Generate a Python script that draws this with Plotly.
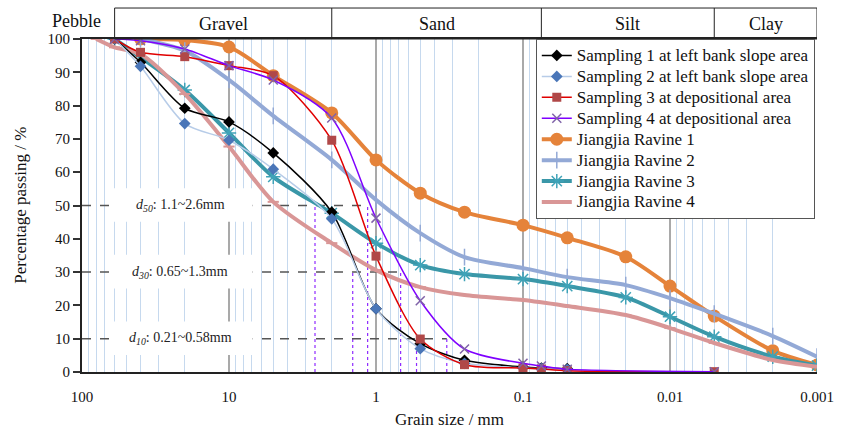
import math
import plotly.graph_objects as go

# ---------------- data ----------------
sizes_s12 = [60, 40, 20, 10, 5, 2, 1, 0.5, 0.25, 0.1, 0.075, 0.05]
sizes_s34 = [60, 40, 20, 10, 5, 2, 1, 0.5, 0.25, 0.1, 0.075, 0.05, 0.005]
sampling1 = [100, 93, 79.2, 75.1, 65.8, 48, 19, 8.5, 3.5, 1.5, 1.2, 1.0]
sampling2 = [100, 91.8, 74.6, 69.6, 60.9, 46, 19, 7, 2.6, 1.2, 1.0, 0.8]
sampling3 = [100, 96, 94.7, 92, 89, 69.6, 34.8, 9.9, 2.2, 1.2, 0.9, 0.4, 0.1]
sampling4 = [100, 99.5, 97, 92, 87.7, 76.3, 46.2, 21.4, 6.9, 2.6, 1.8, 0.8, 0.1]

sizes_r12 = [40, 20, 10, 5, 2, 1, 0.5, 0.25, 0.1, 0.05, 0.02, 0.01, 0.005, 0.002, 0.001]
ravine1 = [100, 99.7, 97.6, 89, 77.8, 63.7, 53.7, 48, 44.1, 40.3, 34.6, 25.8, 16.8, 6.4, 2.1]
ravine2 = [100, 96.5, 87.7, 76.9, 63.7, 51.7, 41.7, 34.5, 31.2, 28.5, 26.1, 22.2, 17.5, 10.8, 4.6]
sizes_r3 = [60, 20, 10, 5, 2, 1, 0.5, 0.25, 0.1, 0.05, 0.02, 0.01, 0.005, 0.002, 0.001]
ravine3 = [100, 84.7, 71.8, 58.6, 47.7, 38.7, 32.1, 29.4, 27.9, 25.8, 22.4, 16.6, 10.6, 4.6, 1.9]
sizes_r4 = [80, 60, 40, 20, 10, 5, 2, 1, 0.5, 0.25, 0.1, 0.05, 0.02, 0.01, 0.005, 0.002, 0.001]
ravine4 = [100, 97.5, 95.5, 83.5, 67.7, 51.1, 38.7, 30.6, 25.5, 23.1, 21.6, 19.8, 17.1, 13.2, 8.7, 3.6, 1.6]

d_levels = [50, 30, 10]
d_names = ["50", "30", "10"]
d_upper = [2.6, 1.44, 0.53]
d_lower = [1.14, 0.68, 0.33]
d_texts = ["1.1~2.6mm", "0.65~1.3mm", "0.21~0.58mm"]

class_bounds = [60, 2, 0.075, 0.005, 0.001]
class_names = ["Gravel", "Sand", "Silt", "Clay"]

decade_ticks = [100, 10, 1, 0.1, 0.01, 0.001]
decade_labels = ["100", "10", "1", "0.1", "0.01", "0.001"]

FONT = "Liberation Serif, Times New Roman, serif"
L = math.log10

fig = go.Figure()

def add(name, x, y, lc, lw, sym, ms, mc, rank, mlw=0):
    marker = dict(symbol=sym, size=ms, color=mc)
    if mlw:
        marker["line"] = dict(width=mlw, color=mc)
    fig.add_trace(go.Scatter(
        x=x, y=y, mode="lines+markers",
        name='<span style="font-size:17px">%s</span>' % name,
        line=dict(color=lc, width=lw, shape="spline", smoothing=0.8),
        marker=marker, legendrank=rank))

# Jiangjia series first (below)
add("Jiangjia Ravine 1", sizes_r12, ravine1, "#E5833A", 4, "circle", 13, "#E5833A", 5)
add("Jiangjia Ravine 2", sizes_r12, ravine2, "#93A9D6", 4, "line-ns-open", 12, "#93A9D6", 6, 1.5)
add("Jiangjia Ravine 3", sizes_r3, ravine3, "#3A97A8", 4, "asterisk-open", 12, "#3FA3B8", 7, 1.5)
add("Jiangjia Ravine 4", sizes_r4, ravine4, "#D99696", 4, "line-ew-open", 8, "#D99696", 8, 2)
# Sampling series
add("Sampling 1 at left bank slope area", sizes_s12, sampling1, "#000000", 1.5, "diamond", 9, "#000000", 1)
add("Sampling 2 at left bank slope area", sizes_s12, sampling2, "#B7CCE8", 1.5, "diamond", 9, "#4A76B8", 2)
add("Sampling 3 at depositional area", sizes_s34, sampling3, "#E00000", 1.5, "square", 9, "#B04848", 3)
add("Sampling 4 at depositional area", sizes_s34, sampling4, "#7F00FF", 1.5, "x-thin-open", 9, "#7F62A8", 4, 1.5)

shapes = []
annotations = []

# decade grid lines (gray)
for v in decade_ticks[1:-1]:
    shapes.append(dict(type="line", xref="x", yref="y", x0=v, x1=v, y0=0, y1=100,
                       line=dict(color="#8C8C8C", width=1.5), layer="between"))

# dashed d-lines, white label boxes, purple dotted verticals
for lev, nm, up, lo, tx in zip(d_levels, d_names, d_upper, d_lower, d_texts):
    shapes.append(dict(type="line", xref="x", yref="y", x0=100, x1=lo, y0=lev, y1=lev,
                       line=dict(color="#555555", width=1.5, dash="dash"), layer="between"))
    shapes.append(dict(type="rect", xref="x", yref="y", x0=63, x1=6.9, y0=lev - 4.9, y1=lev + 5.2,
                       fillcolor="white", line=dict(width=0), layer="between"))
    for v in (up, lo):
        shapes.append(dict(type="line", xref="x", yref="y", x0=v, x1=v, y0=0, y1=lev,
                           line=dict(color="#8F2BFF", width=1.2, dash="dot"), layer="between"))
    annotations.append(dict(xref="x", yref="y", x=1.33, y=lev, showarrow=False,
                            text="<i>d</i><sub><i>%s</i></sub>: %s" % (nm, tx),
                            font=dict(family=FONT, size=14, color="#222222")))

# header classification boxes
top = 1.093
shapes.append(dict(type="rect", xref="x", yref="paper", x0=class_bounds[0], x1=class_bounds[-1],
                   y0=1, y1=top, line=dict(color="#222222", width=1)))
for b in class_bounds[1:-1]:
    shapes.append(dict(type="line", xref="x", yref="paper", x0=b, x1=b, y0=1, y1=top,
                       line=dict(color="#222222", width=1)))
for i, nm in enumerate(class_names):
    xc = (L(class_bounds[i]) + L(class_bounds[i + 1])) / 2
    annotations.append(dict(xref="x", yref="paper", x=xc, y=1.046, xanchor="center", yanchor="middle",
                            showarrow=False, text=nm,
                            font=dict(family=FONT, size=18, color="#111111")))
annotations.append(dict(xref="paper", yref="paper", x=-0.007, y=1.053, xanchor="center", yanchor="middle",
                        showarrow=False, text="Pebble",
                        font=dict(family=FONT, size=18, color="#111111")))

# axis titles
annotations.append(dict(xref="paper", yref="paper", x=0.5, y=-0.144, xanchor="center", yanchor="middle",
                        showarrow=False, text="Grain size / mm",
                        font=dict(family=FONT, size=17, color="#111111")))
annotations.append(dict(xref="paper", yref="paper", x=-0.084, y=0.5, xanchor="center", yanchor="middle",
                        showarrow=False, text="Percentage passing / %", textangle=-90,
                        font=dict(family=FONT, size=17, color="#111111")))

minor_vals = []
for e in range(-3, 2):
    for k in range(2, 10):
        minor_vals.append(k * 10 ** e)

fig.update_layout(
    width=846, height=434,
    margin=dict(l=82, r=17, t=39, b=62),
    paper_bgcolor="white", plot_bgcolor="white",
    font=dict(family=FONT, size=15, color="#111111"),
    shapes=shapes, annotations=annotations,
    showlegend=True,
    legend=dict(x=0.997, y=1, xanchor="right", yanchor="top",
                bgcolor="white", bordercolor="#555555", borderwidth=1,
                font=dict(family=FONT, size=13.8, color="#111111"),
                tracegroupgap=0, itemwidth=30),
    xaxis=dict(type="log", range=[2, -3], tickmode="array", tickvals=decade_ticks,
               ticktext=decade_labels, showgrid=False, ticks="", ticklabelstandoff=10,
               minor=dict(tickmode="array", tickvals=minor_vals, showgrid=True,
                          gridcolor="#C6D9EE", gridwidth=1, ticks=""),
               showline=True, linecolor="#222222", linewidth=2, mirror=True,
               tickfont=dict(family=FONT, size=15)),
    yaxis=dict(range=[0, 100], tickmode="array", tickvals=list(range(0, 101, 10)),
               showgrid=False, zeroline=False, ticks="outside", ticklen=7, tickwidth=1.5,
               tickcolor="#333333", showline=True, linecolor="#222222", linewidth=2,
               tickfont=dict(family=FONT, size=15)),
)

fig.write_html("out.html")
